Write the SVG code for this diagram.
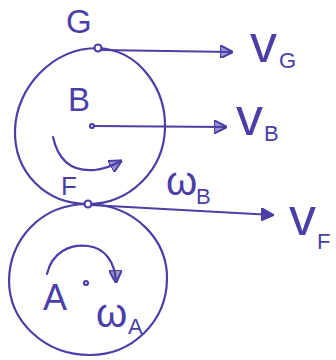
<svg xmlns="http://www.w3.org/2000/svg" width="336" height="360" viewBox="0 0 336 360">
<defs>
<style>
.s{fill:none;stroke:#4b3fa6;stroke-width:2.2;stroke-linecap:round;stroke-linejoin:round}
.t{fill:#4b3fa6;font-family:"Liberation Sans",Arial,sans-serif}
.v{font-size:54px}
.w{font-size:40px}
.sub{font-size:22px}
.pt{fill:#fff;stroke:#4b3fa6;stroke-width:2.2}
</style>
<marker id="ah" viewBox="0 0 10 10" refX="9" refY="5" markerWidth="6" markerHeight="6" markerUnits="strokeWidth" orient="auto">
<path d="M0,0 L10,5 L0,10 Z" fill="#4b3fa6" fill-opacity="0.55" stroke="#4b3fa6" stroke-width="1.5"/>
</marker>
<marker id="ahf" viewBox="0 0 10 10" refX="9" refY="5" markerWidth="6" markerHeight="6" markerUnits="strokeWidth" orient="auto">
<path d="M0,0 L10,5 L0,10 Z" fill="#4b3fa6" stroke="#4b3fa6" stroke-width="1"/>
</marker>
</defs>
<rect width="336" height="360" fill="#fff"/>
<g id="body-B">
<path class="s" d="M98,48 C140,50 166,90 165,128 C164,170 130,204 88,204 C45,204 14,172 15,130 C16,88 52,48 98,48 Z"/>
</g>
<g id="body-A">
<path class="s" d="M88,204 C135,205 168,240 167,280 C166,322 132,355 90,355 C45,355 9,322 9,280 C10,240 40,204 88,204 Z"/>
</g>
<g id="connectors">
<line class="s" x1="101" y1="50" x2="232" y2="52" marker-end="url(#ah)"/>
<line class="s" x1="93" y1="126" x2="226" y2="127" marker-end="url(#ah)"/>
<line class="s" x1="91" y1="205" x2="273" y2="215" marker-end="url(#ahf)"/>
<path class="s" d="M53,137 C58,160 72,172 95,170 C105,169 112,166 121,161" marker-end="url(#ah)"/>
<path class="s" d="M47,274 C52,252 70,244 88,246 C105,248 115,262 116,282" marker-end="url(#ah)"/>
</g>
<g id="point-G">
<circle class="pt" cx="98" cy="48" r="3.5"/>
<text class="t" style="font-size:33px" x="66" y="33">G</text>
</g>
<g id="point-B">
<circle class="pt" cx="92" cy="126" r="2"/>
<text class="t" style="font-size:33px" x="68" y="111">B</text>
</g>
<g id="point-F">
<circle class="pt" cx="88" cy="204" r="3.5"/>
<text class="t" style="font-size:26px" x="61" y="195">F</text>
</g>
<g id="point-A">
<circle class="pt" cx="86" cy="283" r="2"/>
<text class="t" style="font-size:36px" x="43" y="310">A</text>
</g>
<g id="label-vG">
<text class="t v" x="250" y="62">v</text>
<text class="t sub" x="279" y="68">G</text>
</g>
<g id="label-vB">
<text class="t v" x="236" y="135">v</text>
<text class="t sub" x="264" y="141">B</text>
</g>
<g id="label-vF">
<text class="t v" x="289" y="235">v</text>
<text class="t sub" x="317" y="249">F</text>
</g>
<g id="label-wB">
<text class="t w" x="166" y="195">ω</text>
<text class="t sub" x="196" y="204">B</text>
</g>
<g id="label-wA">
<text class="t w" x="96" y="327">ω</text>
<text class="t sub" x="128" y="334">A</text>
</g>
</svg>
